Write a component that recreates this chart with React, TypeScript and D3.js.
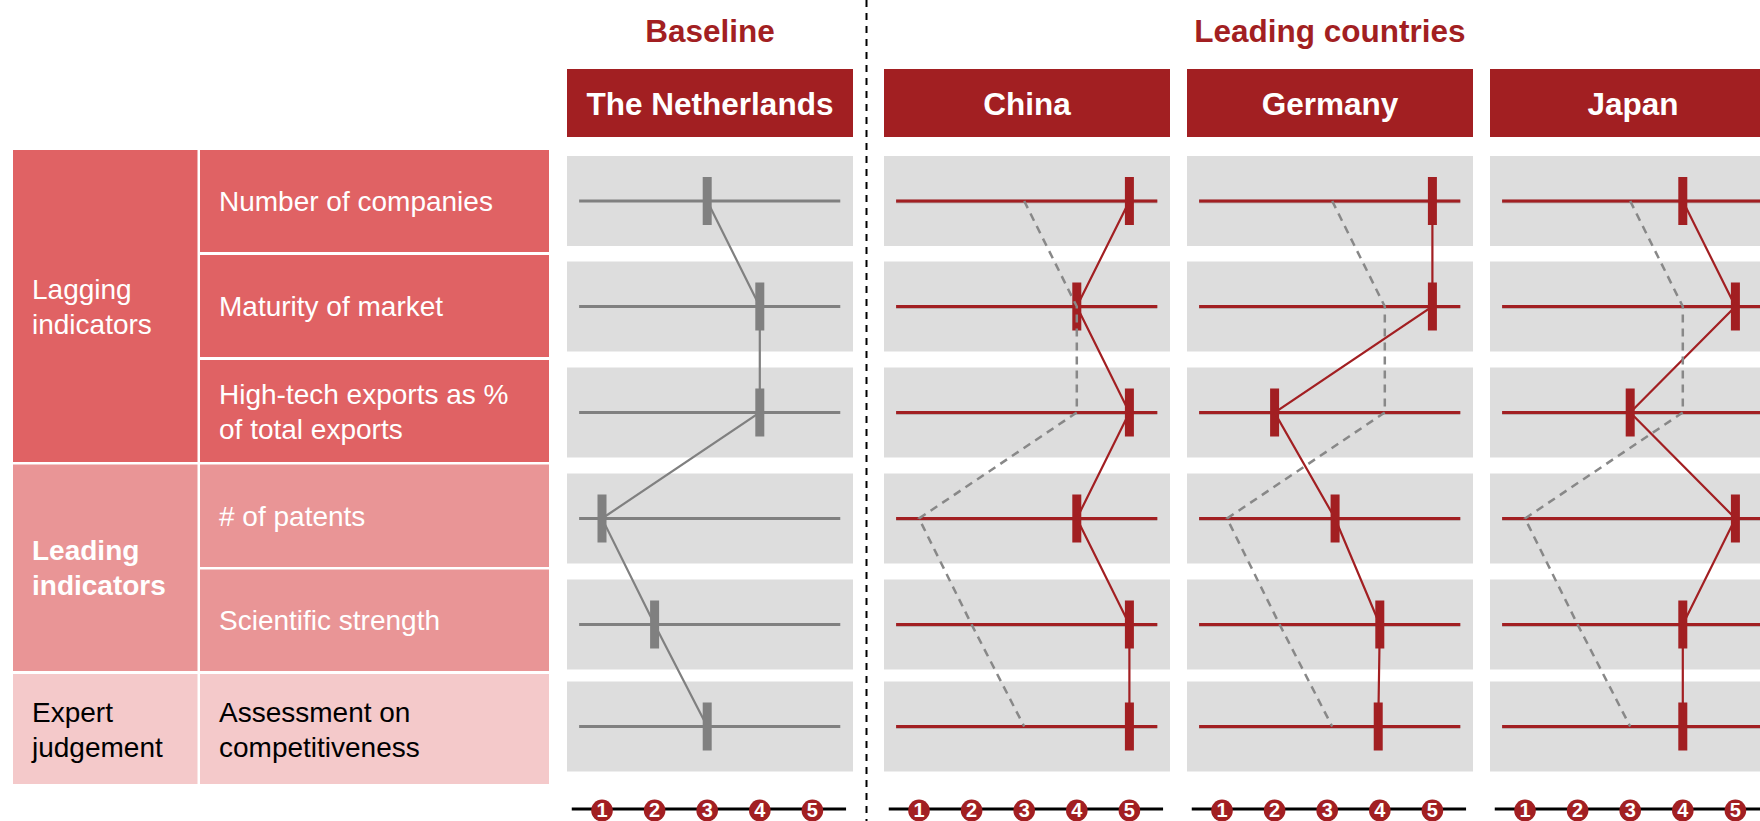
import React from "react";
import * as d3 from "d3";

// ---------- data ----------
const indicators = [
  "Number of companies",
  "Maturity of market",
  "High-tech exports as % of total exports",
  "# of patents",
  "Scientific strength",
  "Assessment on competitiveness",
];
const indicatorLines = [
  ["Number of companies"],
  ["Maturity of market"],
  ["High-tech exports as %", "of total exports"],
  ["# of patents"],
  ["Scientific strength"],
  ["Assessment on", "competitiveness"],
];
const groupLines = [
  ["Lagging", "indicators"],
  ["Leading", "indicators"],
  ["Expert", "judgement"],
];
const groupFirst = [0, 3, 5];
const groupLast = [2, 4, 5];
const baselineTitle = "Baseline";
const leadingTitle = "Leading countries";
const baselineName = "The Netherlands";
const baselineValues = [3, 4, 4, 1, 2, 3];
const countryNames = ["China", "Germany", "Japan"];
const chinaValues = [5, 4, 5, 4, 5, 5];
const germanyValues = [5, 5, 2, 3.15, 4, 3.97];
const japanValues = [4, 5, 3, 5, 4, 4];
const scoreTicks = [1, 2, 3, 4, 5];

// ---------- layout / style ----------
const W = 1760;
const H = 821;
const FONT = "'Liberation Sans', Arial, Helvetica, sans-serif";
const RED = "#A21F22";
const GREY = "#808080";
const PANEL = "#DDDDDD";
const groupFill = ["#E06264", "#E99596", "#F4C9CA"];
const groupText = ["#FFFFFF", "#FFFFFF", "#000000"];
const groupBold = [false, true, false];
const rowTops = [150, 255, 360, 464.5, 569.5, 674];
const rowBottoms = [252, 357, 462, 567, 671, 784];
const rowCenters = [201, 306.5, 412.5, 518.5, 624.5, 726.5];
const panelLefts = [567, 884, 1187, 1490];
const overlayShift = [0, 0, 5, 0];
const panelW = 286;
const panelH = 90;
const col1 = [13, 197.5];
const col2 = [200, 549];

export default function App() {
  const y = d3.scaleOrdinal<string, number>().domain(indicators).range(rowCenters);
  const columns = [
    { name: baselineName, values: baselineValues, color: GREY },
    { name: countryNames[0], values: chinaValues, color: RED },
    { name: countryNames[1], values: germanyValues, color: RED },
    { name: countryNames[2], values: japanValues, color: RED },
  ];
  const lineGen = (x: (v: number) => number) =>
    d3
      .line<number>()
      .x((d) => x(d))
      .y((_, i) => y(indicators[i]));

  return (
    <svg
      width={W}
      height={H}
      style={{ position: "absolute", left: 0, top: 0, display: "block" }}
      fontFamily={FONT}
    >
      <rect x={0} y={0} width={W} height={H} fill="#fff" />
      {/* titles */}
      <text x={panelLefts[0] + panelW / 2} y={41.5} textAnchor="middle" fontSize={31.5} fontWeight="bold" fill={RED}>
        {baselineTitle}
      </text>
      <text
        x={(panelLefts[1] + panelLefts[3] + panelW) / 2}
        y={41.5}
        textAnchor="middle"
        fontSize={31.5}
        fontWeight="bold"
        fill={RED}
      >
        {leadingTitle}
      </text>
      {/* divider */}
      <line x1={866.5} x2={866.5} y1={0} y2={H} stroke="#000" strokeWidth={2} strokeDasharray="7,6" />

      {/* left table */}
      {groupLines.map((lines, g) => {
        const top = rowTops[groupFirst[g]];
        const bottom = rowBottoms[groupLast[g]];
        const cy = (top + bottom) / 2;
        const n = lines.length;
        return (
          <g key={"g" + g}>
            <rect x={col1[0]} y={top} width={col1[1] - col1[0]} height={bottom - top} fill={groupFill[g]} />
            {lines.map((t, k) => (
              <text
                key={k}
                x={32}
                y={cy + 10 + (k - (n - 1) / 2) * 35}
                fontSize={28}
                fontWeight={groupBold[g] ? "bold" : "normal"}
                fill={groupText[g]}
              >
                {t}
              </text>
            ))}
            {indicators.map((ind, i) => {
              if (i < groupFirst[g] || i > groupLast[g]) return null;
              const lns = indicatorLines[i];
              const m = lns.length;
              const c = (rowTops[i] + rowBottoms[i]) / 2;
              return (
                <g key={ind}>
                  <rect x={col2[0]} y={rowTops[i]} width={col2[1] - col2[0]} height={rowBottoms[i] - rowTops[i]} fill={groupFill[g]} />
                  {lns.map((t, k) => (
                    <text key={k} x={219} y={c + 10 + (k - (m - 1) / 2) * 35} fontSize={28} fill={groupText[g]}>
                      {t}
                    </text>
                  ))}
                </g>
              );
            })}
          </g>
        );
      })}

      {/* columns */}
      {columns.map((col, ci) => {
        const left = panelLefts[ci];
        const x = d3.scaleLinear().domain([1, 5]).range([left + 35, left + 35 + 4 * 52.6]);
        const path = lineGen(x)(col.values) || "";
        const basePath = lineGen((v) => x(v) + overlayShift[ci])(baselineValues) || "";
        return (
          <g key={col.name}>
            <rect x={left} y={69} width={panelW} height={68} fill={RED} />
            <text x={left + panelW / 2} y={114.5} textAnchor="middle" fontSize={31.5} fontWeight="bold" fill="#fff">
              {col.name}
            </text>
            {indicators.map((ind) => (
              <rect key={ind} x={left} y={y(ind) - panelH / 2} width={panelW} height={panelH} fill={PANEL} />
            ))}
            {indicators.map((ind) => (
              <g key={"l" + ind}>
                {ci > 0 && (
                  <line x1={x(0.565)} x2={x(5.53)} y1={y(ind) + 0.6} y2={y(ind) + 0.6} stroke="#B0A0A0" strokeWidth={3.5} />
                )}
                <line x1={x(0.565)} x2={x(5.53)} y1={y(ind)} y2={y(ind)} stroke={col.color} strokeWidth={ci > 0 ? 2.8 : 3} />
              </g>
            ))}
            {col.values.map((v, i) => (
              <rect key={"m" + i} x={x(v) - 4.5} y={y(indicators[i]) - 24} width={9} height={48} fill={col.color} />
            ))}
            <path d={path} fill="none" stroke={col.color} strokeWidth={2.2} />
            {ci > 0 && <path d={basePath} fill="none" stroke="#888888" strokeWidth={2.5} strokeDasharray="8,6" />}
            {/* score axis */}
            <line x1={x(0.425)} x2={x(5.64)} y1={809} y2={809} stroke="#000" strokeWidth={3} />
            {scoreTicks.map((t) => (
              <g key={"t" + t}>
                <ellipse cx={x(t)} cy={810.5} rx={10.8} ry={11} fill={RED} />
                <text x={x(t)} y={816.5} textAnchor="middle" fontSize={20} fontWeight="bold" fill="#fff">
                  {t}
                </text>
              </g>
            ))}
          </g>
        );
      })}
    </svg>
  );
}
